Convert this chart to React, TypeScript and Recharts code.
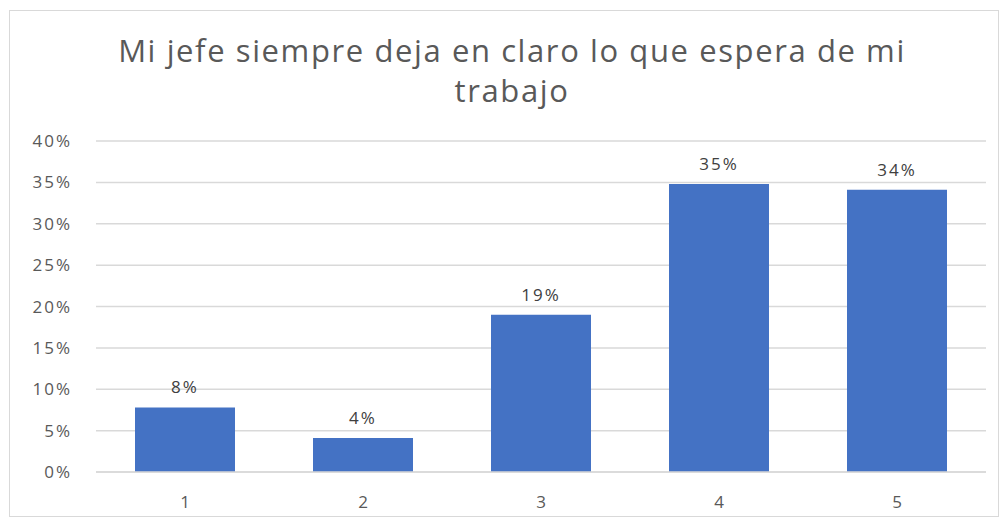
import { Bar, BarChart, CartesianGrid, LabelList, XAxis, YAxis } from "recharts";

const categories = ["1", "2", "3", "4", "5"];
const shares = [7.8, 4.1, 19.0, 34.8, 34.1];
const yTicks = [0, 5, 10, 15, 20, 25, 30, 35, 40];

const data = categories.map((category, i) => ({ category, share: shares[i] }));

const gray = "#595959";
const font = "'Open Sans', sans-serif";

export default function App() {
  return (
    <div style={{ position: "relative", width: 1004, height: 520, background: "#fff" }}>
      <style>{`body{margin:0}`}</style>
      <div
        style={{
          position: "absolute",
          left: 9,
          top: 10,
          width: 990,
          height: 507,
          border: "1px solid #d9d9d9",
          boxSizing: "border-box",
        }}
      />
      <div
        style={{
          position: "absolute",
          left: 112,
          top: 30,
          width: 800,
          textAlign: "center",
          fontFamily: font,
          fontSize: 31,
          letterSpacing: 1.6,
          lineHeight: "40px",
          color: gray,
          whiteSpace: "nowrap",
        }}
      >
        Mi jefe siempre deja en claro lo que espera de mi
        <br />
        trabajo
      </div>
      <BarChart
        width={1004}
        height={520}
        data={data}
        margin={{ top: 141, right: 18, bottom: 18, left: 10 }}
        style={{ position: "absolute", left: 0, top: 0 }}
      >
        <CartesianGrid vertical={false} stroke="#d9d9d9" strokeWidth={1.5} />
        <XAxis
          dataKey="category"
          height={30}
          tickLine={false}
          axisLine={{ stroke: "#d9d9d9", strokeWidth: 1.5 }}
          tickMargin={18}
          tick={{ fill: gray, fontSize: 17, fontFamily: font }}
        />
        <YAxis
          width={86}
          domain={[0, 40]}
          ticks={yTicks}
          interval={0}
          tickFormatter={(v: number) => `${v}%`}
          tickLine={false}
          axisLine={false}
          tickMargin={18}
          tick={{ fill: gray, fontSize: 17, fontFamily: font, letterSpacing: 2 }}
        />
        <Bar dataKey="share" fill="#4472C4" barSize={100} isAnimationActive={false}>
          <LabelList
            dataKey="share"
            position="top"
            offset={14}
            formatter={(v: number) => `${Math.round(v)}%`}
            style={{ fill: "#404040", fontSize: 17, fontFamily: font, letterSpacing: 2 }}
          />
        </Bar>
      </BarChart>
    </div>
  );
}
